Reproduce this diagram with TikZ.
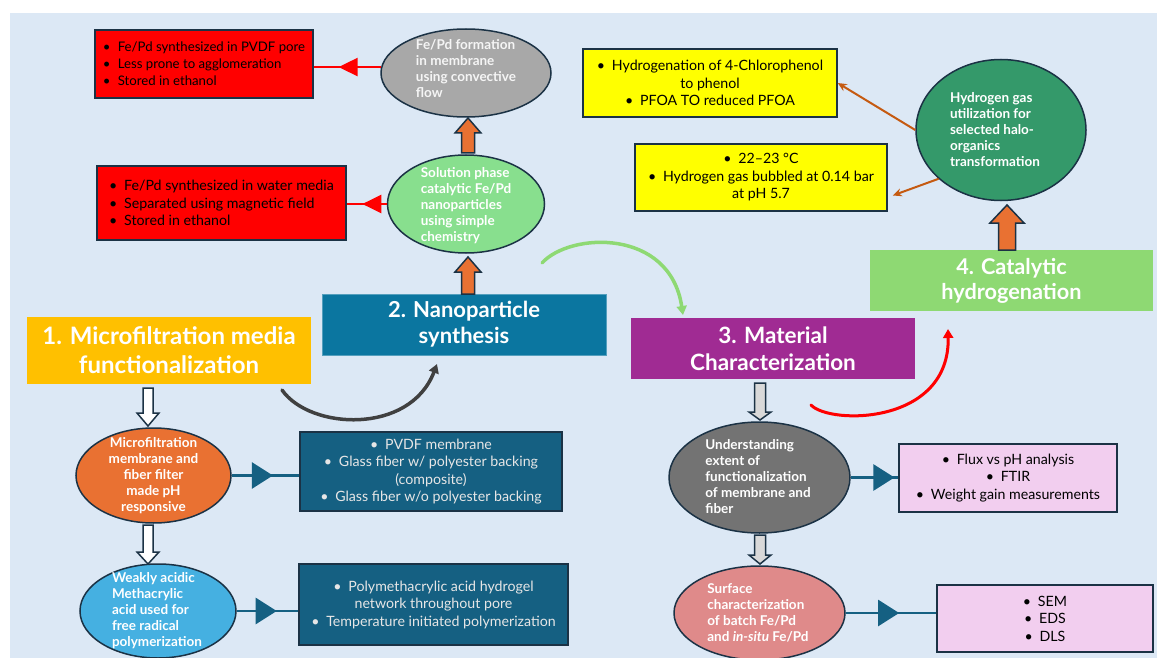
\documentclass[tikz,border=0pt]{standalone}
\usepackage{fontspec}
\setmainfont{Lato}
\usetikzlibrary{shapes.geometric,arrows.meta,decorations.markings,calc}
\definecolor{bgc}{HTML}{DCE8F5}
\definecolor{bordc}{HTML}{1B3245}
\definecolor{redc}{HTML}{FF0000}
\definecolor{grayc}{HTML}{A8A8A8}
\definecolor{lgreenc}{HTML}{88DF8E}
\definecolor{orc}{HTML}{E97132}
\definecolor{yelc}{HTML}{FFFF00}
\definecolor{goldc}{HTML}{FFC000}
\definecolor{nanoc}{HTML}{0B76A0}
\definecolor{purc}{HTML}{A02B93}
\definecolor{green4c}{HTML}{8ED973}
\definecolor{dgreenc}{HTML}{34996A}
\definecolor{dbluec}{HTML}{156082}
\definecolor{blueec}{HTML}{45B0E1}
\definecolor{dgrayc}{HTML}{737373}
\definecolor{pinkc}{HTML}{F2CEEF}
\definecolor{salmc}{HTML}{DF8A8A}
\definecolor{lgrayc}{HTML}{D9D9D9}
\definecolor{brownc}{HTML}{C55A11}
\definecolor{curvec}{HTML}{404040}
\definecolor{lighttxt}{HTML}{E6E6E6}
\newcommand\bodyf{\fontsize{14.2}{17.5}\selectfont}
\newcommand\ellf{\fontsize{13.5}{16}\selectfont\bfseries}
\newcommand\headf{\fontsize{22.5}{27}\selectfont\bfseries}
\newcommand\bl{\makebox[15pt][l]{\textbullet}}
\newcommand\myBarrow[7]{%
  \draw[#7] ({#1-#5},#2) -- ({#1-#5},#3) -- ({#1-#6},#3) -- (#1,#4) -- ({#1+#6},#3) -- ({#1+#5},#3) -- ({#1+#5},#2) -- cycle;}
\tikzset{
  tbox/.style={draw=bordc, line width=1.5pt, inner sep=0pt, font=\bodyf, text=black, align=center},
  rbox/.style={tbox, fill=redc, align=left},
  ybox/.style={tbox, fill=yelc},
  dbox/.style={tbox, fill=dbluec, text=lighttxt},
  pbox/.style={tbox, fill=pinkc},
  hbox/.style={inner sep=0pt, font=\headf, text=white, align=center},
  ell/.style={ellipse, draw=bordc, line width=1.5pt, inner sep=0pt},
  etext/.style={font=\ellf, text=white, align=left, inner sep=0pt},
  barr/.style={draw=bordc, line width=1.5pt, line join=miter},
  midtri/.style={postaction={decorate}, decoration={markings, mark=at position #1 with {\arrow{Triangle[length=21pt,width=26pt]}}}},
  midtrir/.style={postaction={decorate}, decoration={markings, mark=at position #1 with {\arrow{Triangle[length=19pt,width=18pt]}}}},
  dconn/.style={draw=dbluec, line width=2.5pt},
  rconn/.style={draw=redc, line width=2.5pt},
  bconn/.style={draw=brownc, line width=2pt, -{Stealth[length=9pt,width=8pt]}},
  curv/.style={line width=3.5pt, line cap=round, -{Triangle[length=9pt,width=10pt]}}
}
\begin{document}
\begin{tikzpicture}[x=1pt,y=-1pt]
\useasboundingbox (0,0) rectangle (1157,658);
\fill[white] (0,0) rectangle (1157,658);
\fill[bgc] (10,13) rectangle (1157,658);

% top-left red boxes and ellipses
\node[rbox, font=\fontsize{13.2}{17}\selectfont, minimum width=218pt, minimum height=68pt] (r1) at (204,64)
  {\bl Fe/Pd synthesized in PVDF pore\\\bl Less prone to agglomeration\\\bl Stored in ethanol};
\node[rbox, minimum width=249pt, minimum height=74pt] (r2) at (221.5,203)
  {\bl Fe/Pd synthesized in water media\\\bl Separated using magnetic field\\\bl Stored in ethanol};
\node[ell, fill=grayc, minimum width=170pt, minimum height=88pt] (e1) at (466,73) {};
\node[etext, text=white!92!gray] (e1t) at (466,69) {Fe/Pd formation\\in membrane\\using convective\\flow};
\node[ell, fill=lgreenc, minimum width=157pt, minimum height=98pt] (e2) at (466,204) {};
\node[etext] (e2t) at (466,206) {Solution phase\\catalytic Fe/Pd\\nanoparticles\\using simple\\chemistry};

\draw[rconn, midtrir=0.63] (e1.176) -- (e1.176 -| r1.east);
\draw[rconn, midtrir=0.61] (e2.west) -- (e2.west -| r2.east);

% yellow boxes and hydrogen ellipse
\node[ybox, minimum width=254pt, minimum height=68pt] (y1) at (710,83)
  {\bl Hydrogenation of 4-Chlorophenol\\to phenol\\\bl PFOA TO reduced PFOA};
\node[ybox, minimum width=252pt, minimum height=67pt] (y2) at (761,177.5)
  {\bl 22–23 °C\\\bl Hydrogen gas bubbled at 0.14 bar\\at pH 5.7};
\node[ell, fill=dgreenc, minimum width=170pt, minimum height=141pt] (e3) at (1001,130) {};
\node[etext] (e3t) at (995,130) {Hydrogen gas\\utilization for\\selected halo-\\organics\\transformation};
\draw[bconn] (e3.west) -- (y1.east);
\draw[bconn] (e3.218) -- ($(y2.east)+(5,18)$);

% heading boxes
\node[hbox, fill=goldc, minimum width=284pt, minimum height=67pt, font=\fontsize{24}{29}\selectfont\bfseries] (b1) at (169,350.5) {1. Microfiltration media\\functionalization};
\node[hbox, fill=nanoc, draw=nanoc!70!white, line width=0.8pt, minimum width=284pt, minimum height=61pt, font=\fontsize{22}{26}\selectfont\bfseries] (b2) at (464,324.5) {2. Nanoparticle\\synthesis};
\node[hbox, fill=purc, minimum width=284pt, minimum height=61pt] (b3) at (773,348.5) {3. Material\\Characterization};
\node[hbox, fill=green4c, minimum width=283pt, minimum height=61pt, font=\fontsize{21.7}{25}\selectfont\bfseries] (b4) at (1011.5,280.5) {4. Catalytic\\hydrogenation};

% block arrows
\myBarrow{468}{153}{133}{118}{6.5}{13}{barr, fill=orc}
\myBarrow{468}{294}{272}{257}{6.5}{13}{barr, fill=orc}
\myBarrow{1007}{250}{223}{205}{8.5}{17}{barr, fill=orc}
\myBarrow{148}{388}{413}{426}{5}{11}{barr, fill=white}
\myBarrow{148}{525}{552}{564}{5}{11}{barr, fill=white}
\myBarrow{760}{383}{412}{420}{5.5}{11}{barr, fill=lgrayc}
\myBarrow{760}{535}{555}{564}{5.5}{11}{barr, fill=lgrayc}

% curved arrows
\coordinate (c1s) at (282,390);
\coordinate (c1e) at (437,364);
\coordinate (c2s) at (542,263);
\coordinate (c2e) at (683,315);
\coordinate (c3s) at (811,405);
\coordinate (c3e) at (948,329);
\draw[curv, draw=curvec] (c1s) .. controls (310,430) and (410,435) .. (c1e);
\draw[curv, draw=green4c] (c2s) .. controls (570,232) and (670,228) .. (c2e);
\draw[curv, draw=redc, line width=3pt] (c3s) .. controls (830,425) and (950,425) .. (c3e);

% left column
\node[ell, fill=orc, minimum width=155pt, minimum height=95pt] (e4) at (153.5,475.5) {};
\node[etext, align=center] (e4t) at (153.5,476) {Microfiltration\\membrane and\\fiber filter\\made pH\\responsive};
\node[dbox, minimum width=262pt, minimum height=79pt] (d1) at (431,471.5)
  {\bl PVDF membrane\\\bl Glass fiber w/ polyester backing\\(composite)\\\bl Glass fiber w/o polyester backing};
\draw[dconn, midtri=0.61] (e4.east) -- (e4.east -| d1.west);

\node[ell, fill=blueec, minimum width=156pt, minimum height=94pt] (e5) at (158,611) {};
\node[etext] (e5t) at (157,611) {Weakly acidic\\Methacrylic\\acid used for\\free radical\\polymerization};
\node[dbox, minimum width=269pt, minimum height=81pt] (d2) at (433.5,604.5)
  {\bl Polymethacrylic acid hydrogel\\network throughout pore\\\bl Temperature initiated polymerization};
\draw[dconn, midtri=0.65] (e5.east) -- (e5.east -| d2.west);

% right column
\node[ell, fill=dgrayc, minimum width=181pt, minimum height=111pt] (e6) at (759.5,477.5) {};
\node[etext] (e6t) at (758,477) {Understanding\\extent of\\functionalization\\of membrane and\\fiber};
\node[pbox, minimum width=218pt, minimum height=68pt] (p1) at (1008,478)
  {\bl Flux vs pH analysis\\\bl FTIR\\\bl Weight gain measurements};
\draw[dconn, midtri=0.92] (e6.east) -- (e6.east -| p1.west);

\node[ell, fill=salmc, minimum width=171pt, minimum height=94pt] (e7) at (759.5,613) {};
\node[etext] (e7t) at (758,613) {Surface\\characterization\\of batch Fe/Pd\\and \textit{in-situ} Fe/Pd};
\node[pbox, minimum width=216pt, minimum height=67pt] (p2) at (1045,618.5)
  {\bl SEM\\\bl EDS\\\bl DLS};
\draw[dconn, midtri=0.59] (e7.east) -- (e7.east -| p2.west);
\end{tikzpicture}
\end{document}
